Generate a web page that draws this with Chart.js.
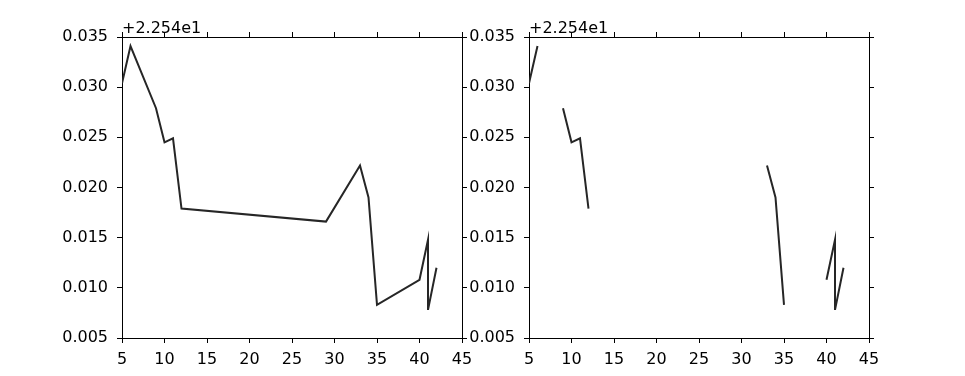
<!DOCTYPE html>
<html>
<head>
<meta charset="utf-8">
<script src="https://cdn.jsdelivr.net/npm/chart.js@4/dist/chart.umd.min.js"></script>
<style>
html,body{margin:0;padding:0;background:#fff;}
#wrap{position:relative;width:965px;height:376px;overflow:hidden;}
.box{position:absolute;top:0;height:376px;}
</style>
</head>
<body>
<div id="wrap">
  <div class="box" style="left:0;width:490px;"><canvas id="c1"></canvas></div>
  <div class="box" style="left:455px;width:510px;"><canvas id="c2"></canvas></div>
</div>
<script>
// Values are shown relative to the axis offset (+2.254e1)
const offsetText = '+2.254e1';
const xValues = [5, 6, 9, 10, 11, 12, 29, 33, 34, 35, 40, 41, 41, 42];
const yValues = [0.0304, 0.0341, 0.0279, 0.0245, 0.0249, 0.0179, 0.0166, 0.0222, 0.0190, 0.0083, 0.0108, 0.0148, 0.0078, 0.0120];
// Right panel: same series, broken where x jumps (null = gap)
const xGapped = [5, 6, 7.5, 9, 10, 11, 12, 20, 29, 31, 33, 34, 35, 37.5, 40, 41, 41, 42];
const yGapped = [0.0304, 0.0341, null, 0.0279, 0.0245, 0.0249, 0.0179, null, 0.0166, null, 0.0222, 0.0190, 0.0083, null, 0.0108, 0.0148, 0.0078, 0.0120];
const xTicks = [5, 10, 15, 20, 25, 30, 35, 40, 45];
const yTicks = [0.005, 0.010, 0.015, 0.020, 0.025, 0.030, 0.035];

const FONT = {family: 'DejaVu Sans', size: 16};
const INK = '#000';

function pts(xs, ys){ return xs.map((x,i)=>({x:x, y:ys[i]})); }

function axisCommon(extra){
  return Object.assign({
    grid:{drawOnChartArea:false, drawTicks:true, tickLength:5, color:INK, lineWidth:1},
    border:{display:true, color:INK, width:1},
  }, extra);
}

const offsetPlugin = {
  id:'offsetText',
  afterDraw(chart){
    const ctx = chart.ctx, a = chart.chartArea;
    ctx.save();
    ctx.font = '16px "DejaVu Sans"';
    ctx.fillStyle = '#000';
    ctx.textAlign = 'left';
    ctx.textBaseline = 'alphabetic';
    ctx.fillText(offsetText, a.left, a.top - 4);
    ctx.restore();
  }
};

function makeChart(id, xs, ys, dims){
  return new Chart(document.getElementById(id), {
    type:'line',
    data:{datasets:[{data:pts(xs,ys), borderColor:'#262626', borderWidth:2, pointRadius:0, tension:0, spanGaps:false, fill:false}]},
    options:{
      responsive:true, maintainAspectRatio:false, animation:false,
      layout:{padding:0},
      plugins:{legend:{display:false}, tooltip:{enabled:false}},
      scales:{
        x: axisCommon({type:'linear', position:'bottom', min:5, max:45,
          afterBuildTicks(s){ s.ticks = xTicks.map(v=>({value:v})); },
          ticks:{font:FONT, color:INK, padding:7, maxRotation:0, autoSkip:false, callback:v=>String(v)},
          afterFit(s){ s.height = dims.bottom; }}),
        x2: axisCommon({type:'linear', position:'top', min:5, max:45,
          afterBuildTicks(s){ s.ticks = xTicks.map(v=>({value:v})); },
          ticks:{display:false},
          afterFit(s){ s.height = dims.top; }}),
        y: axisCommon({type:'linear', position:'left', min:0.005, max:0.035,
          afterBuildTicks(s){ s.ticks = yTicks.map(v=>({value:v})); },
          ticks:{font:FONT, color:INK, padding:9, autoSkip:false, callback:v=>Number(v).toFixed(3)},
          afterFit(s){ s.width = dims.left; }}),
        y2: axisCommon({type:'linear', position:'right', min:0.005, max:0.035,
          afterBuildTicks(s){ s.ticks = yTicks.map(v=>({value:v})); },
          ticks:{display:false},
          afterFit(s){ s.width = dims.right; }})
      }
    },
    plugins:[offsetPlugin]
  });
}

makeChart('c1', xValues, yValues, {left:122, right:28, top:37, bottom:38});
makeChart('c2', xGapped, yGapped, {left:74, right:96, top:37, bottom:38});
</script>
</body>
</html>
